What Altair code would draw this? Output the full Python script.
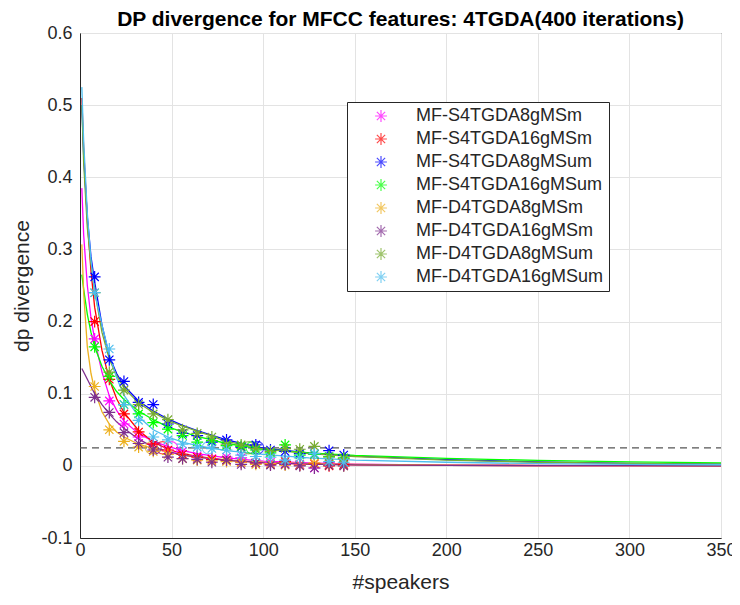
import altair as alt
import pandas as pd

SERIES = ["MF-S4TGDA8gMSm", "MF-S4TGDA16gMSm", "MF-S4TGDA8gMSum", "MF-S4TGDA16gMSum",
          "MF-D4TGDA8gMSm", "MF-D4TGDA16gMSm", "MF-D4TGDA8gMSum", "MF-D4TGDA16gMSum"]
COLORS = ["#FF00FF", "#FF0000", "#0000FF", "#00FF00",
          "#EDB120", "#7E2F8E", "#77AC30", "#4DBEEE"]

# measured points (asterisks)
MARK_X = [8, 16, 24, 32, 40, 48, 56, 64, 72, 80, 88, 96, 104, 112, 120, 128, 136, 144]
MARK_Y = {
    "MF-S4TGDA8gMSm":   [0.176, 0.090, 0.058, 0.040, 0.030, 0.021, 0.020, 0.014, 0.010, 0.012, 0.011, 0.004, 0.005, 0.003, 0.002, -0.003, 0.004, 0.001],
    "MF-S4TGDA16gMSm":  [0.200, 0.120, 0.072, 0.047, 0.030, 0.022, 0.016, 0.012, 0.009, 0.008, 0.005, 0.004, 0.002, 0.006, 0.001, 0.003, 0.000, 0.002],
    "MF-S4TGDA8gMSum":  [0.262, 0.147, 0.117, 0.088, 0.085, 0.058, 0.045, 0.042, 0.033, 0.036, 0.026, 0.029, 0.022, 0.020, 0.017, 0.016, 0.021, 0.015],
    "MF-S4TGDA16gMSum": [0.165, 0.124, 0.085, 0.072, 0.060, 0.051, 0.042, 0.033, 0.035, 0.028, 0.027, 0.022, 0.018, 0.029, 0.015, 0.016, 0.013, 0.011],
    "MF-D4TGDA8gMSm":   [0.110, 0.050, 0.034, 0.026, 0.020, 0.016, 0.010, 0.008, 0.007, 0.006, 0.005, 0.002, 0.003, 0.001, 0.001, 0.004, 0.002, 0.000],
    "MF-D4TGDA16gMSm":  [0.095, 0.074, 0.046, 0.031, 0.022, 0.012, 0.010, 0.009, 0.005, 0.008, 0.002, 0.004, 0.001, 0.002, 0.000, -0.003, 0.001, 0.000],
    "MF-D4TGDA8gMSum":  [0.240, 0.130, 0.105, 0.085, 0.072, 0.064, 0.050, 0.045, 0.040, 0.030, 0.029, 0.024, 0.020, 0.024, 0.023, 0.027, 0.012, 0.010],
    "MF-D4TGDA16gMSum": [0.240, 0.162, 0.085, 0.063, 0.040, 0.036, 0.030, 0.026, 0.024, 0.022, 0.015, 0.013, 0.012, 0.008, 0.011, 0.017, 0.006, 0.005],
}

# fitted curves read at these x values
CURVE_X = [1, 2, 4, 6, 8, 12, 16, 20, 24, 32, 40, 48, 56, 64, 80, 100, 125, 150, 200, 250, 300, 350]
CURVE_Y = {
    "MF-S4TGDA8gMSm":   [0.385, 0.320, 0.250, 0.205, 0.175, 0.130, 0.097, 0.077, 0.062, 0.045, 0.034, 0.027, 0.021, 0.017, 0.011, 0.0065, 0.004, 0.0025, 0.001, 0.0005, 0.0003, 0.0002],
    "MF-S4TGDA16gMSm":  [0.510, 0.440, 0.340, 0.270, 0.220, 0.160, 0.120, 0.093, 0.074, 0.049, 0.033, 0.023, 0.017, 0.013, 0.008, 0.0045, 0.0025, 0.0015, 0.0007, 0.0004, 0.0002, 0.0001],
    "MF-S4TGDA8gMSum":  [0.500, 0.430, 0.345, 0.290, 0.255, 0.195, 0.152, 0.128, 0.111, 0.090, 0.076, 0.065, 0.056, 0.049, 0.036, 0.0245, 0.018, 0.0135, 0.0085, 0.0055, 0.0035, 0.0025],
    "MF-S4TGDA16gMSum": [0.265, 0.245, 0.210, 0.185, 0.165, 0.138, 0.118, 0.103, 0.092, 0.076, 0.064, 0.054, 0.047, 0.041, 0.031, 0.023, 0.018, 0.0145, 0.0105, 0.0075, 0.0055, 0.004],
    "MF-D4TGDA8gMSm":   [0.307, 0.240, 0.165, 0.128, 0.105, 0.075, 0.058, 0.047, 0.040, 0.030, 0.024, 0.019, 0.015, 0.012, 0.008, 0.005, 0.003, 0.002, 0.001, 0.0005, 0.0003, 0.0002],
    "MF-D4TGDA16gMSm":  [0.135, 0.130, 0.120, 0.110, 0.100, 0.085, 0.072, 0.061, 0.052, 0.037, 0.026, 0.020, 0.015, 0.012, 0.0075, 0.0045, 0.0025, 0.0015, 0.0007, 0.0004, 0.0002, 0.0001],
    "MF-D4TGDA8gMSum":  [0.500, 0.420, 0.330, 0.280, 0.243, 0.185, 0.148, 0.125, 0.108, 0.087, 0.074, 0.063, 0.055, 0.048, 0.034, 0.0235, 0.017, 0.013, 0.008, 0.005, 0.0035, 0.0025],
    "MF-D4TGDA16gMSum": [0.525, 0.450, 0.350, 0.285, 0.240, 0.195, 0.155, 0.122, 0.098, 0.068, 0.050, 0.040, 0.033, 0.028, 0.021, 0.016, 0.011, 0.008, 0.005, 0.003, 0.002, 0.0015],
}

# threshold crossing markers (open circles)
CIRCLE_X = [50, 45, 97, 94, 39, 41, 92, 70]
CIRCLE_Y = [0.025, 0.025, 0.025, 0.025, 0.025, 0.025, 0.025, 0.025]

THRESHOLD = [0.025]
X_TICKS = [0, 50, 100, 150, 200, 250, 300, 350]
Y_TICKS = [-0.1, 0.0, 0.1, 0.2, 0.3, 0.4, 0.5, 0.6]

cmap = dict(zip(SERIES, COLORS))
pts = pd.DataFrame([{"series": s, "x": x, "y": y, "order": i}
                    for i, s in enumerate(SERIES) for x, y in zip(MARK_X, MARK_Y[s])])
crv = pd.DataFrame([{"series": s, "x": x, "y": y, "col": cmap[s], "order": i}
                    for i, s in enumerate(SERIES) for x, y in zip(CURVE_X, CURVE_Y[s])])
circ = pd.DataFrame([{"series": s, "x": x, "y": y, "col": cmap[s]}
                     for s, x, y in zip(SERIES, CIRCLE_X, CIRCLE_Y)])
thr = pd.DataFrame({"x": [0], "x2": [350], "y": THRESHOLD})

FONT = "Liberation Sans"
xs = alt.Scale(domain=[0, 350], nice=False)
ys = alt.Scale(domain=[-0.1, 0.6], nice=False)

ASTER = "M-1,0L1,0M0,-1L0,1M-0.7,-0.7L0.7,0.7M-0.7,0.7L0.7,-0.7"

xax = alt.Axis(values=X_TICKS, title="#speakers", grid=True, ticks=False,
               labelPadding=3, titlePadding=12)
yax = alt.Axis(values=Y_TICKS, title="dp divergence", grid=True, ticks=False,
               labelPadding=8, titlePadding=8,
               labelExpr="'' + round(datum.value*10)/10")

base = alt.Chart(crv)

rule = alt.Chart(thr).mark_rule(color="#555555", strokeDash=[7, 5], strokeWidth=1.3).encode(
    x=alt.X("x:Q", scale=xs, axis=xax), x2="x2:Q",
    y=alt.Y("y:Q", scale=ys, axis=yax))

lines = base.mark_line(strokeWidth=1.3, clip=True).encode(
    x=alt.X("x:Q", scale=xs, axis=xax),
    y=alt.Y("y:Q", scale=ys, axis=yax),
    detail="series:N",
    order="x:Q",
    color=alt.Color("col:N", scale=None))

circles = alt.Chart(circ).mark_point(shape="circle", size=150, filled=False, strokeWidth=1.2).encode(
    x=alt.X("x:Q", scale=xs), y=alt.Y("y:Q", scale=ys),
    color=alt.Color("col:N", scale=None))

points = alt.Chart(pts).mark_point(shape=ASTER, size=140, filled=False, strokeWidth=1.2, opacity=1).encode(
    x=alt.X("x:Q", scale=xs), y=alt.Y("y:Q", scale=ys),
    color=alt.Color("series:N", scale=alt.Scale(domain=SERIES, range=COLORS),
                    sort=SERIES,
                    legend=alt.Legend(title=None, orient="none", legendX=267, legendY=69,
                                      symbolType=ASTER, symbolSize=140, symbolStrokeWidth=1.2,
                                      symbolOffset=20, labelOffset=26, padding=5,
                                      rowPadding=5, labelFontSize=18, labelFont=FONT,
                                      labelColor="#262626",
                                      strokeColor="#262626", fillColor="white",
                                      labelLimit=400)))

chart = alt.layer(rule, lines, circles, points).properties(
    width=641, height=505,
    autosize=alt.AutoSizeParams(type="none"),
    padding={"left": 72, "top": 25, "right": 11, "bottom": 59},
    title=alt.TitleParams("DP divergence for MFCC features: 4TGDA(400 iterations)",
                          font=FONT, fontSize=21, fontWeight="bold", color="black", offset=-6),
).configure_axis(
    labelFont=FONT, titleFont=FONT, labelFontSize=18, titleFontSize=21,
    labelColor="#262626", titleColor="#262626", titleFontWeight="normal",
    domainColor="#262626", gridColor="#e3e3e3", labelFlush=False,
).configure_view(stroke="#262626", strokeWidth=1)

chart.save("out.html", embed_options={"renderer": "svg", "actions": False})
